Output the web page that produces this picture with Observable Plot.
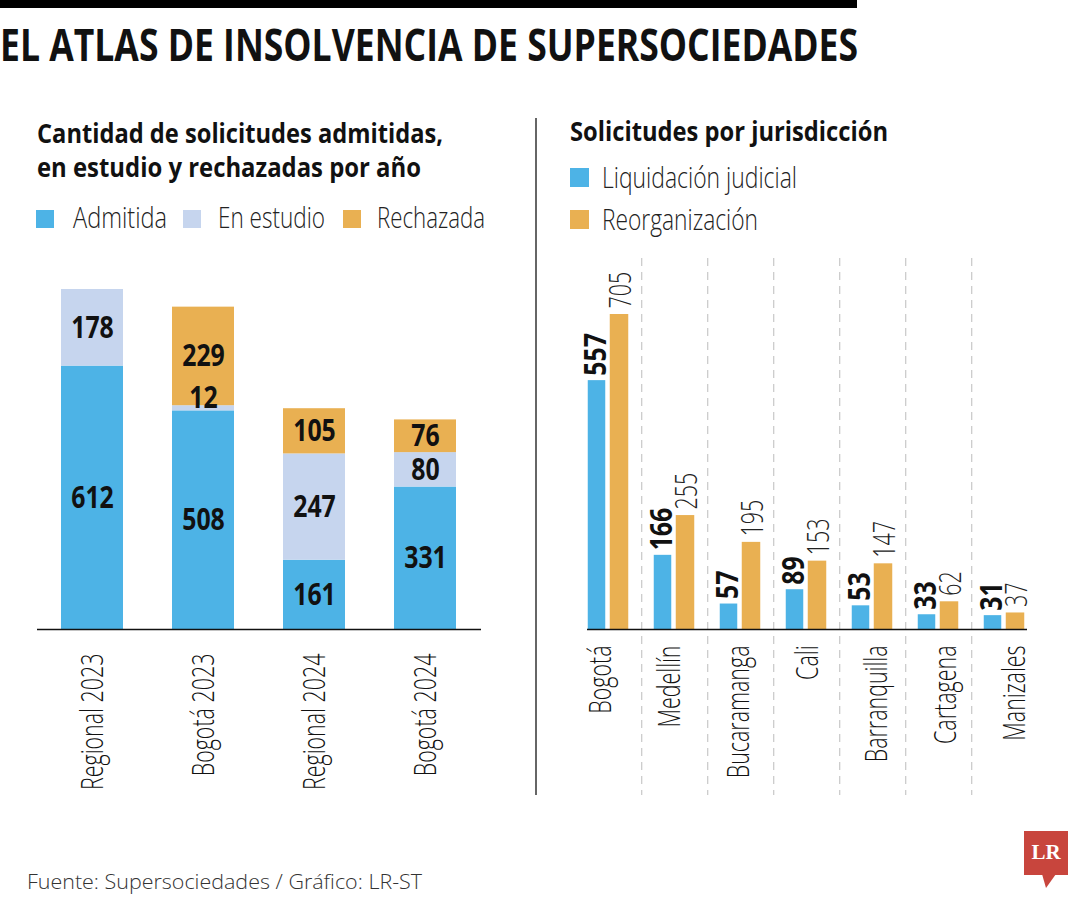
<!DOCTYPE html>
<html><head><meta charset="utf-8">
<script src="https://cdn.jsdelivr.net/npm/d3@7"></script>
<script src="https://cdn.jsdelivr.net/npm/@observablehq/plot@0.6"></script>
<style>
body{margin:0;background:#fff;}
#wrap{position:relative;width:1080px;height:900px;overflow:hidden;font-family:'Open Sans',sans-serif;}
#wrap > svg{position:absolute;}
</style></head><body><div id="wrap"></div>
<script>
// ---------- DATA ----------
const title = "EL ATLAS DE INSOLVENCIA DE SUPERSOCIEDADES";
const leftTitle = ["Cantidad de solicitudes admitidas,", "en estudio y rechazadas por año"];
const rightTitle = "Solicitudes por jurisdicción";
const source = "Fuente: Supersociedades / Gráfico: LR-ST";

const groups = ["Regional 2023", "Bogotá 2023", "Regional 2024", "Bogotá 2024"];
const statusLabels = ["Admitida", "En estudio", "Rechazada"];
const admitida = [612, 508, 161, 331];
const enEstudio = [178, 12, 247, 80];
const rechazada = [0, 229, 105, 76];
const statusColors = ["#4DB3E6", "#C6D5EE", "#E9B052"];

const cities = ["Bogotá", "Medellín", "Bucaramanga", "Cali", "Barranquilla", "Cartagena", "Manizales"];
const seriesLabels = ["Liquidación judicial", "Reorganización"];
const liquidacion = [557, 166, 57, 89, 53, 33, 31];
const reorganizacion = [705, 255, 195, 153, 147, 62, 37];
const seriesColors = ["#4DB3E6", "#E9B052"];

// ---------- LAYOUT ----------
const FONT = "'Open Sans', 'Liberation Sans', sans-serif";
const wrap = d3.select("#wrap");
const ov = wrap.append("svg").attr("width", 1080).attr("height", 900)
  .style("left", "0px").style("top", "0px").style("font-family", FONT);

function txt(s, x, y, size, weight, len, fill = "#111") {
  const t = ov.append("text").attr("x", x).attr("y", y).attr("font-size", size)
    .attr("font-weight", weight).attr("fill", fill).text(s);
  if (len) t.attr("textLength", len).attr("lengthAdjust", "spacingAndGlyphs");
  return t;
}
ov.append("rect").attr("x", 0).attr("y", 0).attr("width", 857).attr("height", 8).attr("fill", "#000");
txt(title, 0, 61, 44, 700, 858);
txt(leftTitle[0], 37, 142.5, 26, 700, 406);
txt(leftTitle[1], 37, 177, 26, 700, 384);
txt(rightTitle, 570, 141, 26, 700, 318);

// left legend
const lgL = {sx: [36, 183, 343], tx: [73, 218, 377], len: [94, 107, 108]};
statusLabels.forEach((s, i) => {
  ov.append("rect").attr("x", lgL.sx[i]).attr("y", 210).attr("width", 18).attr("height", 18).attr("fill", statusColors[i]);
  txt(s, lgL.tx[i], 228, 30, 300, lgL.len[i], "#222");
});
// right legend
const lgR = {sy: [168, 210], ty: [188, 230], len: [195, 156]};
seriesLabels.forEach((s, i) => {
  ov.append("rect").attr("x", 570).attr("y", lgR.sy[i]).attr("width", 19).attr("height", 19).attr("fill", seriesColors[i]);
  txt(s, 602, lgR.ty[i], 30, 300, lgR.len[i], "#222");
});
// panel separator
ov.append("line").attr("x1", 536).attr("x2", 536).attr("y1", 118).attr("y2", 795).attr("stroke", "#333").attr("stroke-width", 1.5);
// footer
txt(source, 27, 889, 21, 300, 395, "#333");
// logo
ov.append("rect").attr("x", 1024).attr("y", 831).attr("width", 44).attr("height", 44).attr("fill", "#C8453D");
ov.append("polygon").attr("points", "1042,874 1056,874 1046,888").attr("fill", "#C8453D");
ov.append("text").attr("x", 1046).attr("y", 859).attr("text-anchor", "middle").attr("font-size", 21)
  .attr("font-weight", 700).attr("font-family", "'Liberation Serif','DejaVu Serif',serif").attr("fill", "#fff").text("LR");

// ---------- LEFT CHART ----------
const stackData = groups.flatMap((g, i) => [admitida[i], enEstudio[i], rechazada[i]]
  .map((v, j) => ({group: g, status: statusLabels[j], value: v}))).filter(d => d.value > 0);

const plotStyle = {fontFamily: FONT, background: "transparent", overflow: "visible", color: "#111"};

const left = Plot.plot({
  width: 500, height: 540, marginLeft: 37, marginRight: 19, marginTop: 29, marginBottom: 171,
  style: plotStyle,
  x: {domain: groups, paddingInner: 0.44, paddingOuter: 0.22, axis: null},
  y: {domain: [0, 790], axis: null},
  color: {domain: statusLabels, range: statusColors},
  marks: [
    Plot.barY(stackData, {x: "group", y: "value", fill: "status"}),
    Plot.text(stackData, Plot.stackY({x: "group", y: "value", z: "status",
      text: d => d.value >= 30 ? String(d.value) : "", fontSize: 31, fontWeight: 700, fill: "#111"})),
    Plot.text(stackData, Plot.stackY({x: "group", y: "value", z: "status",
      text: d => d.value < 30 ? String(d.value) : "", fontSize: 31, fontWeight: 700, fill: "#111", dy: -10})),
    Plot.ruleY([0], {stroke: "#111", strokeWidth: 1.3}),
    Plot.text(groups, {x: d => d, frameAnchor: "bottom", rotate: -90, textAnchor: "end", lineAnchor: "middle",
      dy: 24, fontSize: 32, fontWeight: 300, fill: "#111"})
  ]
});
left.style.left = "0px"; left.style.top = "260px";
document.getElementById("wrap").appendChild(left);

// ---------- RIGHT CHART ----------
const liqData = cities.map((c, i) => ({city: c, value: liquidacion[i]}));
const reoData = cities.map((c, i) => ({city: c, value: reorganizacion[i]}));
const step = 66.5;
const right = Plot.plot({
  width: 540, height: 560, marginLeft: 47, marginRight: 53, marginTop: 74, marginBottom: 171,
  style: plotStyle,
  x: {domain: cities, range: [32.75, 32.75 + step * cities.length], padding: 0, axis: null},
  y: {domain: [0, 705], axis: null},
  marks: [
    Plot.ruleX(cities.slice(0, -1), {x: d => d, dx: step / 2, stroke: "#bdbdbd", strokeWidth: 1,
      strokeDasharray: "8,6", insetTop: -56, insetBottom: -166}),
    Plot.barY(liqData, {x: "city", y: "value", fill: seriesColors[0], insetLeft: 12.75, insetRight: 35.75}),
    Plot.barY(reoData, {x: "city", y: "value", fill: seriesColors[1], insetLeft: 34.75, insetRight: 12.75}),
    Plot.text(liqData, {x: "city", y: "value", text: d => String(d.value), rotate: -90, textAnchor: "start",
      lineAnchor: "bottom", dx: -2.5, dy: -5, fontSize: 31, fontWeight: 700, fill: "#111"}),
    Plot.text(reoData, {x: "city", y: "value", text: d => String(d.value), rotate: -90, textAnchor: "start",
      lineAnchor: "bottom", dx: 22, dy: -6, fontSize: 32, fontWeight: 300, fill: "#222"}),
    Plot.ruleY([0], {stroke: "#111", strokeWidth: 1.3})
  ]
});
right.style.left = "540px"; right.style.top = "240px";
document.getElementById("wrap").appendChild(right);

// right category labels (own band layout, as in the original artwork)
const rightLabels = Plot.plot({
  width: 540, height: 560, marginLeft: 24.33, marginRight: 30.33, marginTop: 74, marginBottom: 171,
  style: plotStyle,
  x: {type: "band", domain: cities, padding: 0, axis: null},
  marks: [
    Plot.text(cities, {x: d => d, frameAnchor: "bottom", rotate: -90, textAnchor: "end", lineAnchor: "middle",
      dy: 16, fontSize: 32, fontWeight: 300, fill: "#111"})
  ]
});
rightLabels.style.left = "540px"; rightLabels.style.top = "240px";
document.getElementById("wrap").appendChild(rightLabels);

// condense Plot text to match the narrow typeface of the original
function condense(root) {
  root.querySelectorAll("text").forEach(t => {
    if (!t.textContent) return;
    const w = getComputedStyle(t).fontWeight;
    const f = (+w >= 600 || w === "bold") ? 0.8 : 0.67;
    const len = t.getComputedTextLength();
    if (len > 0) {
      t.setAttribute("textLength", (len * f).toFixed(1));
      t.setAttribute("lengthAdjust", "spacingAndGlyphs");
    }
  });
}
[left, right, rightLabels].forEach(condense);
</script></body></html>
